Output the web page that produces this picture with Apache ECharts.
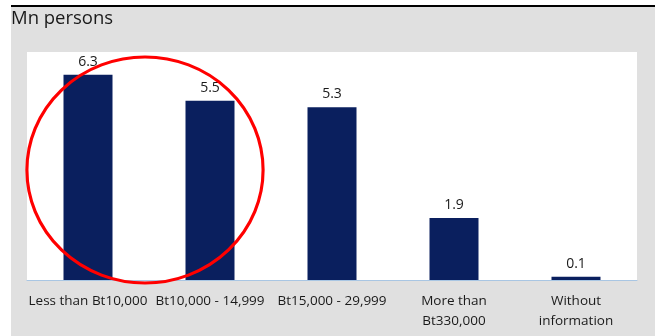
<!DOCTYPE html>
<html>
<head>
<meta charset="utf-8">
<script src="https://cdn.jsdelivr.net/npm/echarts@6/dist/echarts.min.js"></script>
<style>
  html, body { margin: 0; padding: 0; background: #ffffff; }
  #chart { width: 659px; height: 336px; }
</style>
</head>
<body>
<div id="chart"></div>
<script>
// Income groups and persons in each (millions)
const categories = ['Less than Bt10,000', 'Bt10,000 - 14,999', 'Bt15,000 - 29,999', 'More than\nBt330,000', 'Without\ninformation'];
const persons = [6.3, 5.5, 5.3, 1.9, 0.1];
const unitLabel = 'Mn persons';

const chart = echarts.init(document.getElementById('chart'), null, { renderer: 'canvas' });

chart.setOption({
  animation: false,
  backgroundColor: '#ffffff',
  graphic: [
    // grey panel
    { type: 'rect', z: -10, shape: { x: 11, y: 6, width: 644, height: 330 }, style: { fill: '#e0e0e0' } },
    // white plotting field
    { type: 'rect', z: -9, shape: { x: 27, y: 52, width: 610, height: 228 }, style: { fill: '#ffffff' } },
    // black rule on top
    { type: 'line', z: 5, shape: { x1: 11, y1: 6, x2: 655, y2: 6 }, style: { stroke: '#000000', lineWidth: 2 } },
    { type: 'text', z: 5, left: 11, top: 9, style: { text: unitLabel, font: '18.5px "Open Sans", sans-serif', fill: '#1a1a1a' } },
    // red highlight ring around the lowest income groups
    { type: 'circle', z: 20, x: 145, y: 170, scaleX: 1.045, shape: { cx: 0, cy: 0, r: 113 }, style: { fill: 'none', stroke: '#ff0000', lineWidth: 3 } }
  ],
  grid: { left: 27, right: 22, top: 52, bottom: 56 },
  xAxis: {
    type: 'category',
    data: categories,
    axisLine: { lineStyle: { color: '#a9c6e3', width: 1 } },
    axisTick: { show: false },
    axisLabel: { color: '#1a1a1a', fontSize: 13.5, fontFamily: '"Open Sans", sans-serif', margin: 11, lineHeight: 20, interval: 0 }
  },
  yAxis: {
    type: 'value', min: 0, max: 7, show: false, splitLine: { show: false }
  },
  series: [{
    type: 'bar',
    data: persons,
    barWidth: 49,
    itemStyle: { color: '#0a1f5e' },
    label: { show: true, position: 'top', distance: 6, color: '#1a1a1a', fontSize: 14, fontFamily: '"Open Sans", sans-serif', formatter: p => p.value.toFixed(1) }
  }]
});
</script>
</body>
</html>
